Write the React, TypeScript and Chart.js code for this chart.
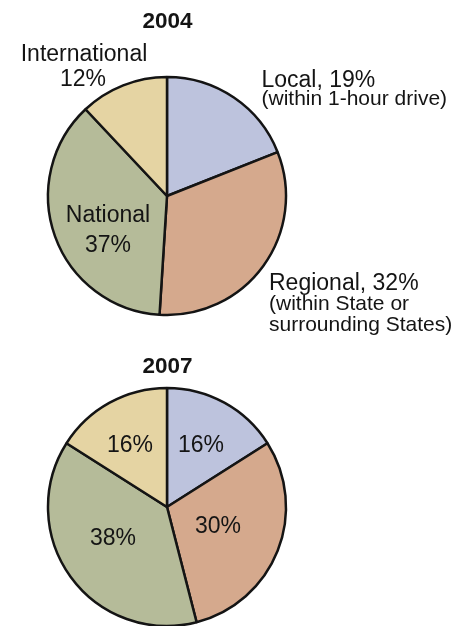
import React, { useEffect, useRef } from "react";
import { Chart, registerables } from "chart.js";

Chart.register(...registerables);

// ---- data ----
const categories = ["Local", "Regional", "National", "International"];
const values2004 = [19, 32, 37, 12];
const values2007 = [16, 30, 38, 16];
const years = ["2004", "2007"];
const localNote = "(within 1-hour drive)";
const regionalNote = ["(within State or", "surrounding States)"];
const sliceColors = ["#BDC3DD", "#D5A98D", "#B5BB99", "#E5D4A3"];

const FONT = '"Liberation Sans", Arial, Helvetica, sans-serif';
const MAIN = `23px ${FONT}`;
const SUB = `21px ${FONT}`;
const TITLE = `bold 22.5px ${FONT}`;
const INK = "#141414";

type Label = { text: string; x: number; y: number; font: string; align: CanvasTextAlign };

const pct = (v: number) => `${v}%`;

// label layouts (page coordinates)
const labels2004: Label[] = [
  { text: years[0], x: 167.5, y: 28, font: TITLE, align: "center" },
  { text: categories[3], x: 84, y: 61, font: MAIN, align: "center" },
  { text: pct(values2004[3]), x: 83, y: 86, font: MAIN, align: "center" },
  { text: `${categories[0]}, ${pct(values2004[0])}`, x: 261.5, y: 87, font: MAIN, align: "left" },
  { text: localNote, x: 261.5, y: 104.5, font: SUB, align: "left" },
  { text: `${categories[1]}, ${pct(values2004[1])}`, x: 269, y: 290, font: MAIN, align: "left" },
  { text: regionalNote[0], x: 269, y: 310, font: SUB, align: "left" },
  { text: regionalNote[1], x: 269, y: 331, font: SUB, align: "left" },
  { text: categories[2], x: 108, y: 221.5, font: MAIN, align: "center" },
  { text: pct(values2004[2]), x: 108, y: 251.5, font: MAIN, align: "center" },
];

const labels2007: Label[] = [
  { text: years[1], x: 167.5, y: 373, font: TITLE, align: "center" },
  { text: pct(values2007[3]), x: 130, y: 451.5, font: MAIN, align: "center" },
  { text: pct(values2007[0]), x: 201, y: 451.5, font: MAIN, align: "center" },
  { text: pct(values2007[1]), x: 218, y: 532.5, font: MAIN, align: "center" },
  { text: pct(values2007[2]), x: 113, y: 545, font: MAIN, align: "center" },
];

type PieProps = {
  top: number;
  height: number;
  values: number[];
  padTop: number;
  padBottom: number;
  labels: Label[];
};

function Pie({ top, height, values, padTop, padBottom, labels }: PieProps) {
  const ref = useRef<HTMLCanvasElement | null>(null);
  useEffect(() => {
    if (!ref.current) return;
    const chart = new Chart(ref.current, {
      type: "pie",
      data: {
        labels: categories,
        datasets: [
          {
            data: values,
            backgroundColor: sliceColors,
            borderColor: INK,
            borderWidth: 2.5,
          },
        ],
      },
      options: {
        responsive: false,
        animation: false,
        radius: 119,
        layout: { padding: { left: 0, right: 135, top: padTop, bottom: padBottom } },
        plugins: { legend: { display: false }, tooltip: { enabled: false }, title: { display: false } },
      } as any,
      plugins: [
        {
          id: "textLabels",
          afterDraw(c: Chart) {
            const ctx = c.ctx;
            ctx.save();
            ctx.fillStyle = INK;
            ctx.textBaseline = "alphabetic";
            for (const l of labels) {
              ctx.font = l.font;
              ctx.textAlign = l.align;
              ctx.fillText(l.text, l.x, l.y - top);
            }
            ctx.restore();
          },
        },
      ],
    });
    return () => chart.destroy();
  }, []);
  return (
    <canvas
      ref={ref}
      width={469}
      height={height}
      style={{ position: "absolute", left: 0, top, width: 469, height }}
    />
  );
}

export default function App() {
  return (
    <div style={{ position: "absolute", left: 0, top: 0, width: 469, height: 626, background: "#fff" }}>
      <Pie top={0} height={340} values={values2004} padTop={60} padBottom={8} labels={labels2004} />
      <Pie top={340} height={286} values={values2007} padTop={52} padBottom={4} labels={labels2007} />
    </div>
  );
}
